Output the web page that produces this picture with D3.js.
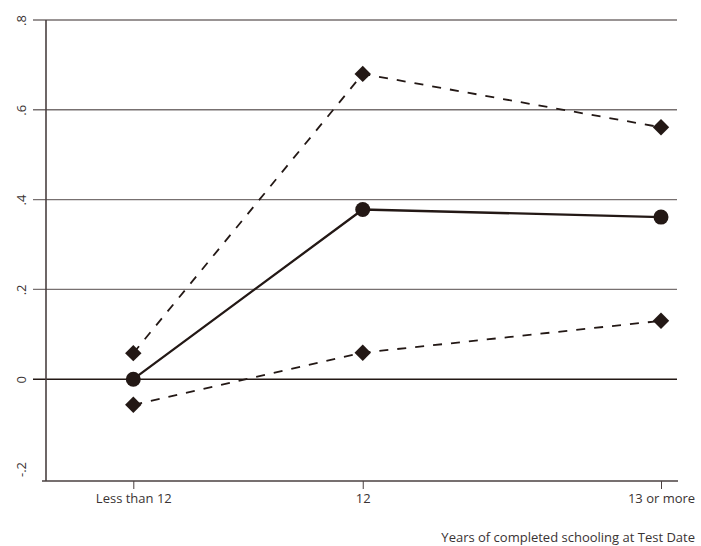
<script src="https://cdn.jsdelivr.net/npm/d3@7"></script>
<style>
  body { margin: 0; background: #fff; }
  text { font-family: "Open Sans", "Noto Sans", sans-serif; fill: #3a3333; }
</style>
<div id="chart"></div>
<script>
// x positions of the three schooling groups (unevenly spaced, as in the figure)
var categories = ["Less than 12", "12", "13 or more"];
var xVals = [1, 2, 3.3];
var estimate = [0, 0.378, 0.361];
var upper = [0.058, 0.68, 0.561];
var lower = [-0.057, 0.059, 0.13];
var yTicks = [-0.2, 0, 0.2, 0.4, 0.6, 0.8];
var yTickLabels = ["-.2", "0", ".2", ".4", ".6", ".8"];

var ink = "#231815", grid = "#777070", axisCol = "#4a4040";
var axisY = 481, axisX = 46;

var svg = d3.select("#chart").append("svg")
    .attr("width", 701).attr("height", 546);

var x = d3.scaleLinear().domain([1, 3.3]).range([133.3, 661]);
var y = d3.scaleLinear().domain([-0.2, 0.8]).range([469, 20]);

// horizontal grid lines (they run through the tick marks on the left)
svg.append("g").selectAll("line")
  .data(yTicks.filter(function(d) { return d > -0.2; }))
  .join("line")
    .attr("x1", 33).attr("x2", 677)
    .attr("y1", function(d) { return y(d); })
    .attr("y2", function(d) { return y(d); })
    .attr("stroke", function(d) { return d === 0 ? ink : grid; })
    .attr("stroke-width", function(d) { return d === 0 ? 1.6 : 1.4; });

// left axis
var leftAxis = svg.append("g").attr("transform", "translate(" + axisX + ",0)")
  .call(d3.axisLeft(y).tickValues(yTicks).tickSize(0)
        .tickFormat(function(d, i) { return yTickLabels[i]; }));
leftAxis.select(".domain").attr("stroke", axisCol).attr("stroke-width", 1.6)
  .attr("d", "M0," + y(0.8) + "V" + axisY);
leftAxis.selectAll(".tick text")
  .attr("transform", "rotate(-90)")
  .attr("x", 0).attr("y", -20).attr("dy", 0)
  .style("text-anchor", "middle")
  .style("font-size", "13px");

// bottom axis
var bottomAxis = svg.append("g").attr("transform", "translate(0," + axisY + ")")
  .call(d3.axisBottom(x).tickValues(xVals).tickSize(8)
        .tickFormat(function(d, i) { return categories[i]; }));
bottomAxis.select(".domain").attr("stroke", axisCol).attr("stroke-width", 1.6)
  .attr("d", "M42,0H678");
bottomAxis.selectAll(".tick line").attr("stroke", axisCol);
bottomAxis.selectAll(".tick text").attr("y", 13).style("font-size", "13px");

svg.append("text")
  .attr("x", 695).attr("y", 542)
  .style("text-anchor", "end")
  .style("font-size", "13px")
  .text("Years of completed schooling at Test Date");

function pts(vals) {
  return vals.map(function(v, i) { return [xVals[i], v]; });
}
var line = d3.line()
  .x(function(d) { return x(d[0]); })
  .y(function(d) { return y(d[1]); });

[upper, lower].forEach(function(s) {
  svg.append("path")
    .attr("d", line(pts(s)))
    .attr("fill", "none")
    .attr("stroke", ink)
    .attr("stroke-width", 1.8)
    .attr("stroke-dasharray", "9,9");
  svg.append("g").selectAll("path")
    .data(pts(s))
    .join("path")
      .attr("d", d3.symbol().type(d3.symbolSquare).size(135))
      .attr("transform", function(d) {
        return "translate(" + x(d[0]) + "," + y(d[1]) + ") rotate(45)";
      })
      .attr("fill", ink);
});

svg.append("path")
  .attr("d", line(pts(estimate)))
  .attr("fill", "none")
  .attr("stroke", ink)
  .attr("stroke-width", 2.3);
svg.append("g").selectAll("circle")
  .data(pts(estimate))
  .join("circle")
    .attr("cx", function(d) { return x(d[0]); })
    .attr("cy", function(d) { return y(d[1]); })
    .attr("r", 7.5)
    .attr("fill", ink);
</script>
